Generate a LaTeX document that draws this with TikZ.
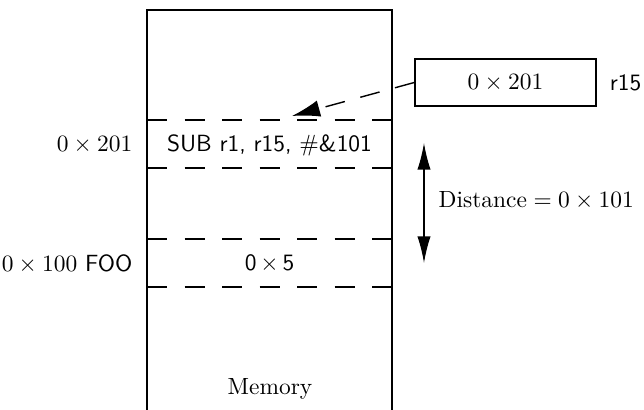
\documentclass[tikz,border=0pt]{standalone}
\usepackage{amsmath}
\usepackage{tikz}
\usetikzlibrary{arrows.meta, positioning}

\begin{document}
\begin{tikzpicture}[
    x=0.015cm, y=-0.015cm, semithick,
    cell/.style={inner sep=0pt, font=\normalsize},
    addr/.style={anchor=east, inner sep=0pt},
    regbox/.style={rectangle, draw=black, minimum width=2.715cm, minimum height=0.705cm, inner sep=0pt},
    slotline/.style={dash pattern=on 0.3cm off 0.2625cm},
    ptr/.style={-{Latex[length=0.42cm, width=0.25cm]}, dash pattern=on 0.3cm off 0.24cm},
    span/.style={{Latex[length=0.4cm, width=0.2cm]}-{Latex[length=0.4cm, width=0.2cm]}}
]
    \useasboundingbox (0,0) rectangle (644,410);

    % Memory column (open at the bottom)
    \draw (147,410) |- (392,10) -- (392,410);
    \node[cell] (memlabel) at (270,389) {Memory};

    % Word boundaries
    \draw[slotline] (147,120) -- (392,120);
    \draw[slotline] (147,168) -- (392,168);
    \draw[slotline] (147,239) -- (392,239);
    \draw[slotline] (147,287) -- (392,287);

    % Contents and addresses
    \node[cell] (sub) at (269.5,145) {\textsf{SUB r1, r15, \#\&101}};
    \node[cell] (five) at (269.5,264) {\textsf{0}$\,\times\,$\textsf{5}};
    \node[addr] (subaddr) at (133,145) {$0\times201$};
    \node[addr] (fooaddr) at (133,264) {$0\times100$ \textsf{FOO}};

    % Register r15
    \node[regbox] (reg) at (505.5,82.5) {$0\times201$};
    \node[right=0.07cm of reg] (regname) {\textsf{r15}};
    \coordinate (slot) at (292,116);
    \draw[ptr] (reg.west) -- (slot);

    % Distance between the two words
    \coordinate (dtop) at (424,143);
    \coordinate (dbot) at (424,263);
    \draw[span] (dtop) -- (dbot);
    \node[anchor=west, inner sep=0pt] (dist) at (438,200) {Distance${}=0\times101$};

\end{tikzpicture}
\end{document}
